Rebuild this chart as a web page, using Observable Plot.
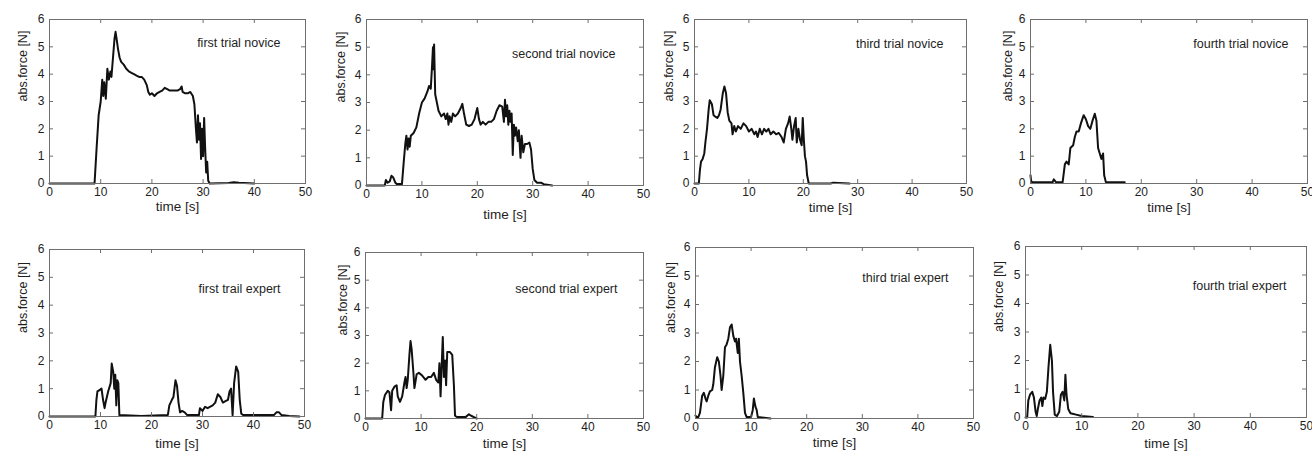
<!DOCTYPE html>
<html>
<head>
<meta charset="utf-8">
<script src="https://cdn.jsdelivr.net/npm/d3@7"></script>
<script src="https://cdn.jsdelivr.net/npm/@observablehq/plot@0.6"></script>
<style>
  html, body { margin: 0; padding: 0; background: #fff; }
  #wrap { position: relative; width: 1312px; height: 455px; overflow: hidden; }
  #wrap svg { position: absolute; left: 0; top: 0; }
</style>
</head>
<body>
<div id="wrap"></div>
<script>
// ---- data ----
const titles = [
  "first trial novice", "second trial novice", "third trial novice", "fourth trial novice",
  "first trail expert", "second trial expert", "third trial expert", "fourth trial expert"
];
const xTicks = [0, 10, 20, 30, 40, 50];
const yTicks = [0, 1, 2, 3, 4, 5, 6];
const xLabel = "time [s]";
const yLabel = "abs.force [N]";

const t1 = [0, 8.8, 9.2, 9.6, 10, 10.3, 10.5, 10.7, 11, 11.3, 11.6, 11.9, 12.1, 12.4, 12.7, 12.9, 13.1, 13.4, 13.7, 14, 14.5, 15, 15.5, 16, 16.5, 17, 17.5, 18, 18.5, 19, 19.3, 19.6, 20, 20.5, 21, 21.5, 22, 22.5, 23, 23.5, 24, 24.5, 25, 25.5, 25.8, 26, 26.5, 27, 27.5, 28, 28.3, 28.6, 28.8, 29, 29.2, 29.4, 29.6, 29.8, 30, 30.2, 30.4, 30.6, 30.8, 31, 31.3, 35, 36, 37, 40];
const f1 = [0, 0, 1.3, 2.5, 3.0, 3.8, 3.2, 3.7, 3.1, 4.2, 3.8, 4.1, 3.9, 4.6, 5.3, 5.55, 5.3, 4.9, 4.6, 4.45, 4.35, 4.2, 4.1, 4.05, 4.0, 3.95, 3.9, 3.9, 3.8, 3.6, 3.35, 3.25, 3.3, 3.2, 3.3, 3.35, 3.4, 3.5, 3.45, 3.4, 3.4, 3.4, 3.4, 3.45, 3.55, 3.35, 3.3, 3.3, 3.35, 3.2, 2.9, 2.0, 1.5, 2.5, 1.6, 2.2, 0.9, 2.0, 1.0, 2.4, 1.3, 0.4, 0.8, 0.1, 0.0, 0.02, 0.05, 0.03, 0.0];

const t2 = [0, 3.3, 3.5, 3.8, 4.2, 4.5, 4.8, 5.2, 5.5, 6.4, 6.7, 7, 7.2, 7.4, 7.6, 7.8, 8, 8.5, 9, 9.5, 10, 10.5, 11, 11.3, 11.6, 11.8, 12, 12.1, 12.2, 12.4, 12.7, 13, 13.5, 14, 14.3, 14.6, 14.8, 15, 15.3, 15.6, 16, 16.5, 17, 17.3, 17.6, 18, 18.5, 19, 19.5, 20, 20.3, 20.6, 21, 21.5, 22, 22.5, 23, 23.5, 24, 24.5, 24.8, 25, 25.2, 25.4, 25.6, 25.8, 26, 26.2, 26.4, 26.6, 26.8, 27, 27.3, 27.5, 27.8, 28, 28.3, 28.6, 29, 29.4, 29.7, 30, 30.3, 30.8, 31.5, 32, 33.5];
const f2 = [0, 0, 0.2, 0.1, 0.15, 0.35, 0.3, 0.1, 0.05, 0.05, 0.8, 1.5, 1.8, 1.3, 1.7, 1.4, 1.8, 1.9, 2.1, 2.6, 3.0, 3.15, 3.4, 3.6, 3.5, 4.2, 5.0, 4.2, 5.1, 3.3, 3.0, 2.7, 2.5, 2.6, 2.4, 2.6, 2.2, 2.5, 2.3, 2.6, 2.5, 2.6, 2.8, 2.95, 2.6, 2.2, 2.15, 2.2, 2.4, 2.8, 2.4, 2.2, 2.3, 2.2, 2.3, 2.3, 2.4, 2.7, 2.9, 2.85, 2.3, 3.1, 2.5, 2.9, 2.2, 2.7, 2.3, 2.6, 1.1, 2.2, 1.8, 2.1, 1.6, 2.0, 1.0, 1.8, 1.2, 1.5, 1.5, 1.55, 1.3, 0.6, 0.2, 0.1, 0.1, 0.05, 0.0];

const t3 = [0, 0.8, 1, 1.2, 1.5, 1.8, 2, 2.3, 2.6, 2.8, 3.2, 3.5, 3.8, 4.2, 4.5, 4.8, 5.2, 5.5, 5.8, 6.1, 6.4, 6.8, 7, 7.3, 7.6, 8, 8.5, 9, 9.5, 10, 10.5, 11, 11.3, 11.6, 12, 12.4, 12.8, 13.2, 13.6, 14, 14.5, 15, 15.5, 16, 16.4, 16.8, 17.2, 17.5, 17.8, 18, 18.3, 18.6, 18.8, 19.1, 19.4, 19.7, 19.9, 20.1, 20.3, 20.5, 20.7, 21, 25, 25.5, 28.5];
const f3 = [0, 0, 0.5, 0.8, 0.9, 1.1, 1.5, 2.0, 2.7, 3.05, 2.9, 2.5, 2.45, 2.4, 2.5, 2.7, 3.3, 3.55, 3.3, 2.6, 2.3, 2.2, 1.8, 2.1, 1.9, 2.1, 2.0, 2.2, 2.1, 1.9, 2.0, 1.8, 1.9, 1.7, 2.0, 1.8, 2.0, 1.9, 2.0, 1.8, 1.9, 1.8, 1.85, 1.7, 1.5, 2.0, 2.2, 2.45, 2.0, 1.6, 2.1, 2.4, 1.5, 2.0, 1.6, 1.4, 2.4, 1.6, 1.0, 0.8, 0.3, 0.0, 0.0, 0.03, 0.0];

const t4 = [0, 0.1, 0.3, 4, 4.2, 4.6, 5.8, 6.2, 6.5, 6.9, 7.2, 7.7, 8, 8.3, 8.7, 9.1, 9.6, 10, 10.4, 10.8, 11.2, 11.6, 11.9, 12.2, 12.5, 12.8, 13.1, 13.3, 13.6, 17];
const f4 = [0.3, 0.1, 0.05, 0.05, 0.15, 0.05, 0.05, 0.7, 0.8, 0.7, 1.3, 1.4, 1.7, 1.9, 1.9, 2.2, 2.5, 2.35, 2.1, 2.0, 2.3, 2.55, 2.3, 1.3, 1.1, 0.9, 1.1, 0.3, 0.05, 0.05];

const t5 = [0, 9, 9.2, 9.4, 9.8, 10.2, 10.5, 10.8, 11, 11.5, 12, 12.2, 12.5, 12.7, 12.9, 13.1, 13.3, 13.5, 13.7, 18, 23.2, 23.5, 24, 24.3, 24.7, 25, 25.3, 25.6, 26, 26.5, 27, 29.3, 29.5, 30, 30.5, 31, 32, 32.5, 33, 33.5, 34, 34.5, 35, 35.3, 35.6, 35.9, 36.2, 36.6, 37, 37.3, 37.6, 38, 44, 44.5, 45, 45.5, 47, 49];
const f5 = [0, 0, 0.6, 0.9, 0.95, 1.0, 0.6, 0.3, 0.5, 0.9, 1.2, 1.9, 1.6, 1.0, 1.5, 0.4, 1.3, 1.2, 0.05, 0.02, 0.05, 0.4, 0.6, 0.7, 1.3, 1.1, 0.5, 0.15, 0.2, 0.15, 0.05, 0.05, 0.3, 0.2, 0.35, 0.3, 0.4, 0.5, 0.8, 0.7, 0.5, 0.55, 0.6, 0.9, 1.0, 0.05, 1.2, 1.8, 1.6, 0.6, 0.1, 0.05, 0.05, 0.15, 0.15, 0.05, 0.02, 0.0];

const t6 = [0, 3, 3.2, 3.5, 4, 4.3, 4.6, 4.8, 5.2, 5.6, 5.8, 6.2, 6.6, 7, 7.2, 7.4, 7.6, 7.9, 8.1, 8.3, 8.6, 8.8, 9.2, 9.6, 10.2, 10.8, 11.3, 11.8, 12.3, 12.7, 13.1, 13.3, 13.5, 13.7, 13.9, 14.1, 14.3, 14.5, 14.7, 15.2, 15.6, 15.9, 16.1, 16.5, 18, 18.6, 19, 19.5, 20];
const f6 = [0, 0, 0.6, 0.85, 1.0, 0.95, 0.3, 1.0, 1.15, 1.2, 0.8, 0.6, 0.8, 1.3, 1.5, 1.1, 1.4, 2.3, 2.8, 2.5, 1.7, 1.1, 1.6, 1.65, 1.55, 1.4, 1.5, 1.5, 1.65, 1.4, 1.3, 2.0, 0.8, 1.9, 2.95, 1.5, 2.1, 1.2, 2.4, 2.4, 2.3, 1.2, 0.1, 0.05, 0.05, 0.15, 0.1, 0.05, 0.0];

const t7 = [0, 0.2, 0.5, 0.8, 1, 1.2, 1.5, 1.8, 2, 2.3, 2.6, 3, 3.2, 3.5, 3.9, 4.2, 4.5, 4.7, 5, 5.3, 5.6, 5.9, 6.2, 6.5, 6.8, 7.1, 7.3, 7.6, 7.8, 8, 8.3, 8.6, 8.9, 9.2, 10, 10.3, 10.5, 10.8, 11, 11.2, 13.5];
const f7 = [0.1, 0.05, 0.05, 0.2, 0.5, 0.8, 0.9, 0.7, 0.6, 0.8, 0.95, 1.0, 1.2, 1.8, 2.15, 2.0, 1.5, 1.0, 1.5, 2.5, 2.6, 2.8, 3.2, 3.3, 2.9, 2.7, 2.8, 2.3, 2.8, 2.0, 1.5, 0.9, 0.2, 0.05, 0.05, 0.3, 0.7, 0.4, 0.3, 0.05, 0.0];

const t8 = [0, 0.3, 0.5, 0.8, 1.2, 1.5, 1.8, 2, 2.2, 2.5, 2.8, 3, 3.2, 3.5, 3.8, 4.1, 4.4, 4.7, 4.9, 5.2, 5.6, 6, 6.3, 6.6, 6.9, 7.1, 7.3, 7.6, 8, 9, 10, 12];
const f8 = [0, 0, 0.6, 0.8, 0.9, 0.7, 0.2, 0.05, 0.3, 0.6, 0.7, 0.4, 0.7, 0.65, 0.9, 1.8, 2.55, 2.0, 0.9, 0.1, 0.05, 0.2, 0.8, 0.9, 0.6, 1.5, 0.8, 0.3, 0.15, 0.1, 0.05, 0.02];

const times = [t1, t2, t3, t4, t5, t6, t7, t8];
const forces = [f1, f2, f3, f4, f5, f6, f7, f8];

// ---- layout (frame pixel bounds: left, right, top, bottom) ----
const W = 1312, H = 455;
const frames = [
  [49, 305, 19, 183], [366, 643, 19, 185], [694, 966, 19, 183], [1030, 1307, 19, 183],
  [49, 304, 249, 416], [365, 643, 252, 418], [695, 973, 247, 418], [1025, 1306, 246, 417]
];
const titleOffsets = [[-25, 23], [-28, 34], [-23, 24], [-19, 24], [-24, 39], [-26, 36], [-25, 30], [-20, 39]];
const xLabelOffsets = [23, 29, 24, 24, 27, 25, 24, 26];
const yLabelOffsets = [-27, -26, -26, -23, -27, -23, -25, -27];

const wrap = document.getElementById("wrap");
const font = "'Liberation Sans', Arial, Helvetica, sans-serif";
const frameColor = "#6f6f6f";
const textColor = "#1e1e1e";
const tickLen = 4;

frames.forEach(([L, R, T, B], i) => {
  const data = times[i].map((t, j) => ({t, f: forces[i][j]}));
  const fw = R - L, fh = B - T;
  const svg = Plot.plot({
    width: W, height: H,
    marginLeft: L, marginRight: W - R, marginTop: T, marginBottom: H - B,
    style: {fontFamily: font, fontSize: "12px", color: textColor, background: "transparent", overflow: "visible"},
    x: {domain: [0, 50], axis: null},
    y: {domain: [0, 6], axis: null},
    marks: [
      Plot.line(data, {x: "t", y: "f", stroke: "#111", strokeWidth: 2, strokeLinejoin: "round"}),
      Plot.frame({stroke: frameColor, strokeWidth: 1}),
      Plot.tickX(xTicks, {x: d => d, insetTop: fh - tickLen, stroke: frameColor}),
      Plot.tickX(xTicks, {x: d => d, insetBottom: fh - tickLen, stroke: frameColor}),
      Plot.tickY(yTicks, {y: d => d, insetRight: fw - tickLen, stroke: frameColor}),
      Plot.tickY(yTicks, {y: d => d, insetLeft: fw - tickLen, stroke: frameColor}),
      Plot.axisX({ticks: xTicks, tickSize: 0, tickPadding: 4, tickFormat: d => String(d), label: null, fontSize: 12}),
      Plot.axisY({ticks: yTicks, tickSize: 0, tickPadding: 5, tickFormat: d => String(d), label: null, fontSize: 12}),
      Plot.text([titles[i]], {text: d => d, frameAnchor: "top-right", textAnchor: "end", lineAnchor: "middle",
        dx: titleOffsets[i][0], dy: titleOffsets[i][1], fontSize: 12.5, fill: textColor}),
      Plot.text([xLabel], {text: d => d, frameAnchor: "bottom", lineAnchor: "middle",
        dy: xLabelOffsets[i], fontSize: 13.5, fill: textColor}),
      Plot.text([yLabel], {text: d => d, frameAnchor: "left", lineAnchor: "middle", rotate: -90,
        dx: yLabelOffsets[i], fontSize: 12.5, fill: textColor})
    ]
  });
  svg.style.position = "absolute";
  svg.style.left = "0px";
  svg.style.top = "0px";
  svg.style.background = "transparent";
  svg.style.maxWidth = "none";
  wrap.appendChild(svg);
});
</script>
</body>
</html>
